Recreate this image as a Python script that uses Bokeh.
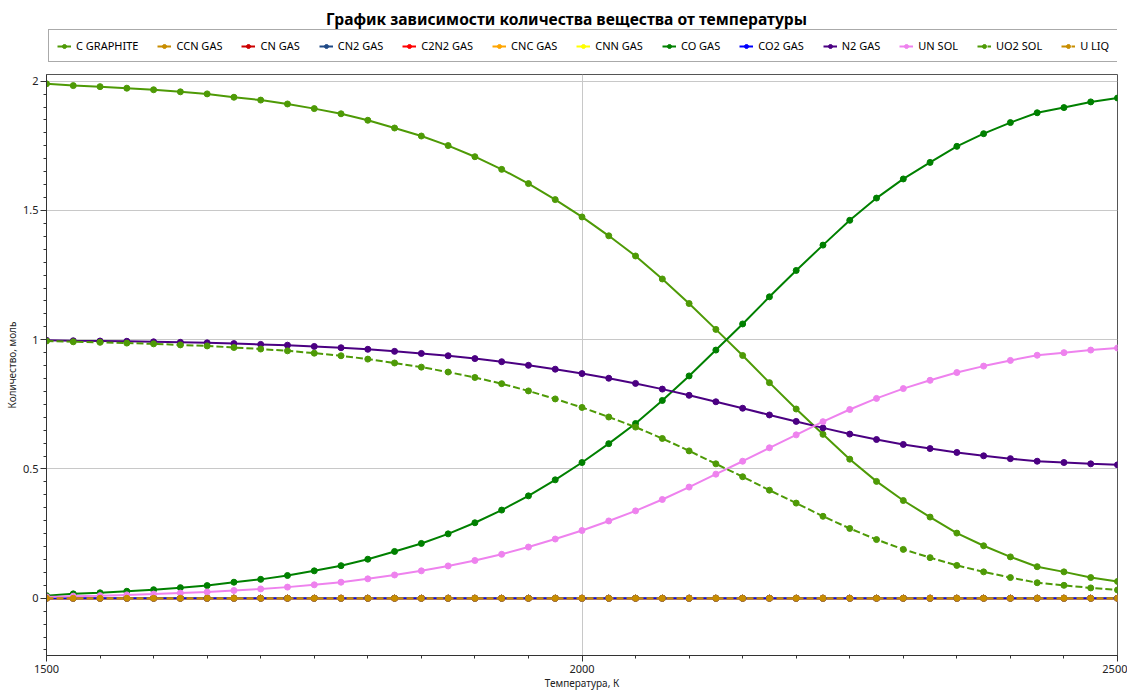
from bokeh.plotting import figure
from bokeh.models import Range1d, FixedTicker, Legend, LegendItem, Label
from bokeh.layouts import column
from bokeh.embed import file_html
from bokeh.resources import INLINE

# ---- data ----
temperature = list(range(1500, 2501, 25))

c_graphite = [1.990, 1.983, 1.979, 1.973, 1.967, 1.959, 1.951, 1.938, 1.927, 1.912,
              1.894, 1.874, 1.849, 1.819, 1.788, 1.751, 1.708, 1.659, 1.604, 1.542,
              1.475, 1.402, 1.324, 1.235, 1.140, 1.040, 0.939, 0.834, 0.732, 0.634,
              0.538, 0.452, 0.378, 0.314, 0.252, 0.203, 0.160, 0.122, 0.102, 0.080, 0.065]
co_gas = [0.010, 0.017, 0.021, 0.027, 0.033, 0.041, 0.049, 0.062, 0.073, 0.088,
          0.106, 0.126, 0.151, 0.181, 0.212, 0.249, 0.292, 0.341, 0.396, 0.458,
          0.525, 0.598, 0.676, 0.765, 0.860, 0.960, 1.061, 1.166, 1.268, 1.366,
          1.462, 1.548, 1.622, 1.686, 1.748, 1.797, 1.840, 1.878, 1.898, 1.920, 1.935]
n2_gas = [0.998, 0.996, 0.995, 0.994, 0.992, 0.990, 0.988, 0.985, 0.982, 0.979,
          0.974, 0.969, 0.963, 0.955, 0.947, 0.938, 0.927, 0.915, 0.901, 0.886,
          0.869, 0.851, 0.831, 0.809, 0.785, 0.760, 0.735, 0.709, 0.684, 0.659,
          0.635, 0.614, 0.595, 0.579, 0.564, 0.551, 0.540, 0.530, 0.525, 0.520, 0.516]
un_sol = [0.005, 0.008, 0.010, 0.013, 0.016, 0.020, 0.024, 0.030, 0.036, 0.043,
          0.052, 0.062, 0.075, 0.090, 0.106, 0.125, 0.146, 0.170, 0.198, 0.229,
          0.262, 0.299, 0.338, 0.382, 0.430, 0.480, 0.530, 0.582, 0.632, 0.683,
          0.730, 0.773, 0.811, 0.843, 0.873, 0.898, 0.920, 0.940, 0.950, 0.960, 0.968]
uo2_sol = [0.995, 0.992, 0.990, 0.987, 0.984, 0.980, 0.976, 0.970, 0.964, 0.957,
           0.948, 0.938, 0.925, 0.910, 0.894, 0.875, 0.854, 0.830, 0.802, 0.771,
           0.738, 0.701, 0.662, 0.618, 0.570, 0.520, 0.470, 0.418, 0.368, 0.317,
           0.270, 0.227, 0.189, 0.157, 0.127, 0.102, 0.080, 0.060, 0.050, 0.040, 0.032]
zero_line = [0.0] * 41
ccn_gas = zero_line
cn_gas = zero_line
cn2_gas = zero_line
c2n2_gas = zero_line
cnc_gas = zero_line
cnn_gas = zero_line
co2_gas = zero_line
u_liq = zero_line

series_names = ["C GRAPHITE", "CCN GAS", "CN GAS", "CN2 GAS", "C2N2 GAS", "CNC GAS",
                "CNN GAS", "CO GAS", "CO2 GAS", "N2 GAS", "UN SOL", "UO2 SOL", "U LIQ"]
series_values = [c_graphite, ccn_gas, cn_gas, cn2_gas, c2n2_gas, cnc_gas,
                 cnn_gas, co_gas, co2_gas, n2_gas, un_sol, uo2_sol, u_liq]
series_colors = ["#4E9A06", "#C88D00", "#CC0000", "#204A87", "#FF0000", "#FFA500",
                 "#FFFF00", "#008000", "#0000FF", "#4B0082", "#EE82EE", "#4E9A06", "#C88D00"]
series_dash = ["solid"] * 11 + ["7 3", "7 3"]

x_ticks = [1500, 2000, 2500]
y_ticks = [0, 0.5, 1, 1.5, 2]
title_text = "График зависимости количества вещества от температуры"

FONT = "Noto Sans"
W = 1127
TOP_H = 73
MAIN_H = 619
BL, BR = 46, 10

# ---- header figure: title + legend (series drawn far outside its visible ranges) ----
head = figure(width=W, height=TOP_H, output_backend="svg", toolbar_location=None,
              x_range=Range1d(0, 1), y_range=Range1d(0, 1),
              min_border_left=BL, min_border_right=BR, min_border_top=0, min_border_bottom=0,
              x_axis_type=None, y_axis_type=None)
head.grid.visible = False
head.outline_line_color = None
head.background_fill_color = "white"
head.border_fill_color = "white"

head.add_layout(Label(x=520, y=TOP_H - 18, x_units="screen", y_units="screen",
                      text=title_text, text_align="center", text_baseline="middle",
                      text_font=FONT, text_font_size="15.6px", text_font_style="bold",
                      text_color="#000000"))

items = []
for name, vals, col, dash in zip(series_names, series_values, series_colors, series_dash):
    r1 = head.line(temperature, vals, line_color=col, line_width=2, line_dash=dash)
    r2 = head.scatter(temperature, vals, marker="circle", size=6, fill_color=col, line_color=col)
    items.append(LegendItem(label=name, renderers=[r1, r2]))

legend = Legend(items=items, orientation="horizontal", location=(2, TOP_H - 62),
                label_text_font=FONT, label_text_font_size="11px", label_text_color="#000000",
                glyph_width=14, glyph_height=10, label_standoff=5, spacing=19,
                padding=8, margin=0, border_line_color="#555555", border_line_width=1,
                label_height=12, background_fill_color="white", background_fill_alpha=1)
head.add_layout(legend, "center")

# ---- main chart ----
p = figure(width=W, height=MAIN_H, output_backend="svg", toolbar_location=None,
           x_range=Range1d(1500, 2500), y_range=Range1d(-0.2215, 2.026),
           min_border_left=BL, min_border_right=BR, min_border_top=1, min_border_bottom=36)

for name, vals, col, dash in zip(series_names, series_values, series_colors, series_dash):
    p.line(temperature, vals, line_color=col, line_width=2, line_dash=dash)
    p.scatter(temperature, vals, marker="circle", size=6, fill_color=col, line_color=col)

p.xaxis.ticker = FixedTicker(ticks=x_ticks, minor_ticks=list(range(1500, 2501, 50)))
p.yaxis.ticker = FixedTicker(ticks=y_ticks, minor_ticks=[round(-0.2 + 0.05 * i, 2) for i in range(45)])
p.yaxis.major_label_overrides = {0: "0", 0.5: "0.5", 1: "1", 1.5: "1.5", 2: "2"}

for ax in (p.xaxis, p.yaxis):
    ax.axis_line_color = "#333333"
    ax.major_tick_line_color = "#333333"
    ax.minor_tick_line_color = "#333333"
    ax.major_tick_out = 6
    ax.major_tick_in = 0
    ax.minor_tick_out = 3
    ax.minor_tick_in = 0
    ax.major_label_text_font = FONT
    ax.major_label_text_font_size = "11px"
    ax.major_label_text_color = "#222222"
    ax.axis_label_text_font = FONT
    ax.axis_label_text_font_size = "10px"
    ax.axis_label_text_font_style = "normal"
    ax.axis_label_text_color = "#222222"

p.xaxis.axis_label = "Температура, К"
p.yaxis.axis_label = "Количество, моль"
p.xaxis.major_label_standoff = 3
p.xaxis.axis_label_standoff = 0
p.yaxis.major_label_standoff = 2
p.yaxis.axis_label_standoff = 1

p.xgrid.ticker = FixedTicker(ticks=x_ticks)
p.ygrid.ticker = FixedTicker(ticks=y_ticks)
p.grid.grid_line_color = "#c8c8c8"
p.grid.grid_line_width = 1

p.outline_line_color = "#555555"
p.outline_line_width = 1
p.background_fill_color = "white"
p.border_fill_color = "white"

layout = column(head, p, spacing=0)
open("out.html", "w").write(file_html(layout, INLINE))
